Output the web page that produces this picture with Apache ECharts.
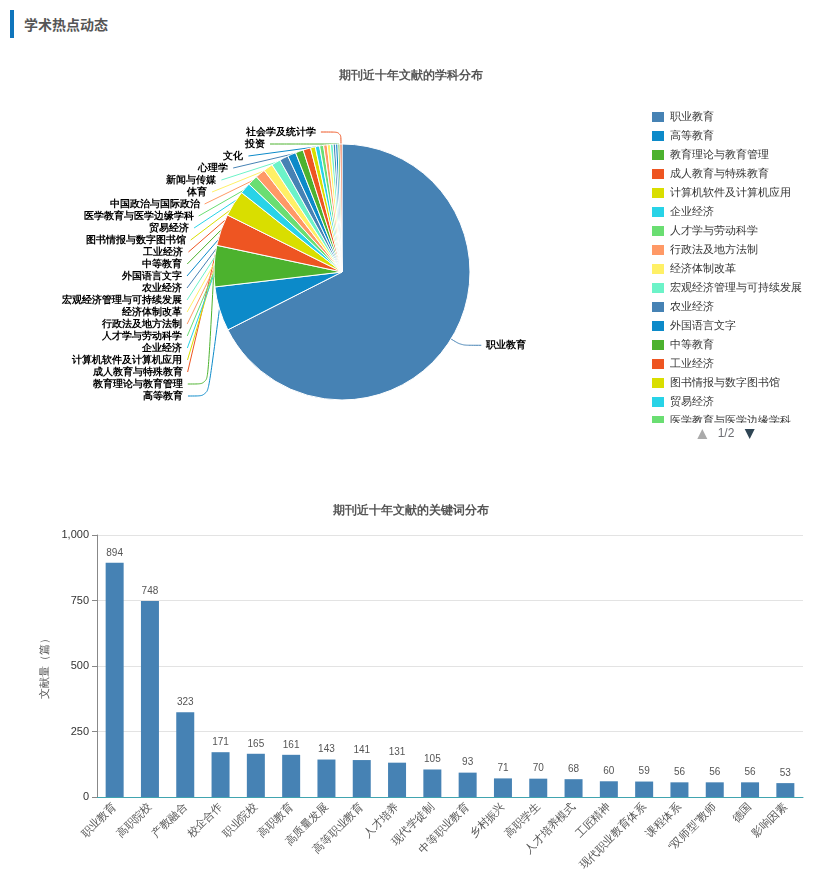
<!DOCTYPE html>
<html><head><meta charset="utf-8">
<script src="https://cdn.jsdelivr.net/npm/echarts@6/dist/echarts.min.js"></script>
<style>
body{margin:0;background:#fff;font-family:"Noto Sans CJK SC",sans-serif;}
#head{position:absolute;left:10px;top:10px;height:28px;border-left:4px solid #0f75bc;padding-left:10px;line-height:28px;font-size:14px;font-weight:bold;color:#555;}
#main{position:absolute;left:0;top:50px;width:821px;height:835px;}
</style></head>
<body>
<div id="head">学术热点动态</div>
<div id="main"></div>
<script>
var chart = echarts.init(document.getElementById('main'));
// 学科分布
var subjects = ['职业教育','高等教育','教育理论与教育管理','成人教育与特殊教育','计算机软件及计算机应用','企业经济','人才学与劳动科学','行政法及地方法制','经济体制改革','宏观经济管理与可持续发展','农业经济','外国语言文字','中等教育','工业经济','图书情报与数字图书馆','贸易经济','医学教育与医学边缘学科','中国政治与国际政治','体育','新闻与传媒','心理学','文化','投资','社会学及统计学'];
var subjectValues = [6750,560,520,400,330,140,130,125,120,115,110,105,100,95,60,55,50,45,40,35,30,30,25,25];
// 关键词分布
var keywords = ['职业教育','高职院校','产教融合','校企合作','职业院校','高职教育','高质量发展','高等职业教育','人才培养','现代学徒制','中等职业教育','乡村振兴','高职学生','人才培养模式','工匠精神','现代职业教育体系','课程体系','“双师型”教师','德国','影响因素'];
var keywordValues = [894,748,323,171,165,161,143,141,131,105,93,71,70,68,60,59,56,56,56,53];

var palette = ['#4682b4','#0c8ac9','#4cb22e','#ee5522','#d9de00','#28d3e7','#6ade72','#ff9966','#fff066','#6cf3c8'];

var option = {
    color: palette,
    title: [
        {text:'期刊近十年文献的学科分布',left:'center',top:15,textStyle:{fontSize:12,color:'#555',fontWeight:'bold'}},
        {text:'期刊近十年文献的关键词分布',left:'center',top:450,textStyle:{fontSize:12,color:'#555',fontWeight:'bold'}}
    ],
    legend: {
        type:'scroll',orient:'vertical',left:645,top:55,height:330,
        itemWidth:14,itemHeight:12,itemGap:5,icon:'rect',
        textStyle:{fontSize:11,color:'#333'},
        pageIconColor:'#2f4554',pageIconInactiveColor:'#aaa',pageIconSize:10,
        data:subjects
    },
    grid:{left:97,right:18,top:485,height:262},
    xAxis:{type:'category',data:keywords,
        axisLine:{lineStyle:{color:'#41a5b0'}},axisTick:{alignWithLabel:true},
        axisLabel:{rotate:45,fontSize:11,color:'#555',interval:0}},
    yAxis:{type:'value',min:0,max:1000,interval:250,name:'文献量（篇）',nameLocation:'middle',nameGap:45,
        nameTextStyle:{color:'#555',fontSize:11},
        axisLine:{show:true,lineStyle:{color:'#888'}},axisTick:{show:true},
        axisLabel:{color:'#333',fontSize:11},splitLine:{lineStyle:{color:'#e3e3e3'}}},
    series: [
        {type:'pie',center:[342,222],radius:[0,128],startAngle:90,clockwise:true,
            avoidLabelOverlap:true,
            label:{fontSize:10,color:'#000',fontWeight:'bold'},
            labelLine:{length:12,length2:20,smooth:true},
            itemStyle:{borderColor:'#fff',borderWidth:1},
            data:subjects.map(function(n,i){return {name:n,value:subjectValues[i]};})},
        {type:'bar',data:keywordValues,barWidth:18,
            itemStyle:{color:'#4682b4'},
            label:{show:true,position:'top',color:'#555',fontSize:10}}
    ]
};
chart.setOption(option);
</script>
</body></html>
